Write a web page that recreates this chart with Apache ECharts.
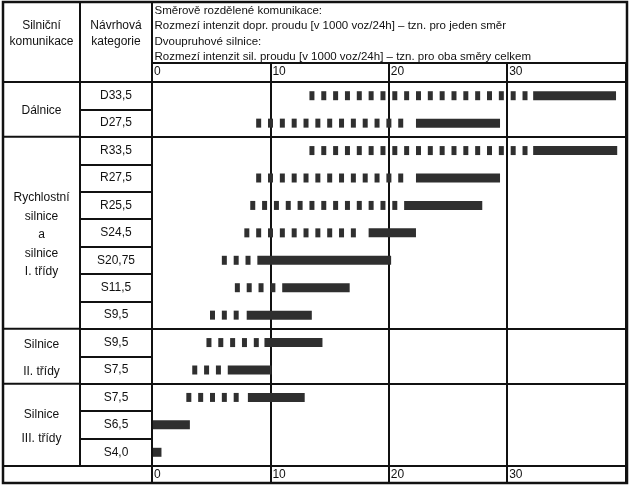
<!DOCTYPE html>
<html><head><meta charset="utf-8">
<script src="https://cdn.jsdelivr.net/npm/echarts@6/dist/echarts.min.js"></script>
<style>html,body{margin:0;padding:0;background:#fff}#c{width:631px;height:488px}</style>
</head><body><div id="c"></div>
<script>
// ---- data ----
const categories = ['D33,5','D27,5','R33,5','R27,5','R25,5','S24,5','S20,75','S11,5','S9,5','S9,5','S7,5','S7,5','S6,5','S4,0'];
const dashStart  = [13.3, 8.8, 13.3, 8.8, 8.3, 7.8, 5.9, 7.0, 4.9, 4.6, 3.4, 2.9, null, null];
const solidStart = [32.2, 22.3, 32.2, 22.3, 21.3, 18.3, 8.9, 11.0, 8.0, 9.5, 6.4, 8.1, 0, 0];
const solidEnd   = [39.2, 29.4, 39.3, 29.4, 27.9, 22.3, 20.2, 16.7, 13.5, 14.4, 10.1, 12.9, 3.2, 0.8];
const axisMin = 0, axisMax = 40, axisStep = 10;
const groupNames = [['Dálnice'], ['Rychlostní','silnice','a','silnice','I. třídy'], ['Silnice','II. třídy'], ['Silnice','III. třídy']];
const groupRows = [2, 7, 2, 3];
const headerCol1 = ['Silniční','komunikace'];
const headerCol2 = ['Návrhová','kategorie'];
const headerLines = [
  'Směrově rozdělené komunikace:',
  'Rozmezí intenzit dopr. proudu [v 1000 voz/24h] – tzn. pro jeden směr',
  'Dvoupruhové silnice:',
  'Rozmezí intenzit sil. proudu [v 1000 voz/24h] – tzn. pro oba směry celkem'
];

// ---- layout / style ----
const W = 631, H = 488;
const L = { outerL: 3, outerT: 2, outerR: 627, outerB: 483, col1R: 80, gridL: 152, gridR: 625.5, headB: 63, gridT: 82, gridB: 466 };
const INK = '#111';
const BAR = '#2f2f2f';
const FONT = '"Liberation Sans", Arial, sans-serif';
const groupLineH = [0, 18.5, 27, 24];
const rowH = (L.gridB - L.gridT) / categories.length;

const chart = echarts.init(document.getElementById('c'), null, { renderer: 'canvas' });

const seriesData = categories.map((c, i) => [i, dashStart[i] == null ? solidStart[i] : dashStart[i], solidStart[i], solidEnd[i]]);

function renderItem(params, api) {
  const cat = api.value(0), ds = api.value(1), ss = api.value(2), se = api.value(3);
  const h = 9, dashW = 5, gap = 4;
  const cy = api.coord([ss, cat])[1];
  const y = cy - h / 2;
  const xs = api.coord([ss, cat])[0];
  const xe = api.coord([se, cat])[0];
  const children = [];
  let v = ds;
  while (api.coord([v, cat])[0] + dashW <= xs - gap) {
    const x = api.coord([v, cat])[0];
    children.push({ type: 'rect', shape: { x: x, y: y, width: dashW, height: h }, style: { fill: BAR } });
    v += 1;
  }
  children.push({ type: 'rect', shape: { x: xs, y: y, width: Math.max(0, xe - xs), height: h }, style: { fill: BAR } });
  return { type: 'group', children: children };
}

// group boundary indices
const boundaries = [];
{ let acc = 0; groupRows.forEach((r, i) => { acc += r; if (i < groupRows.length - 1) boundaries.push(acc); }); }

const graphics = [];
function line(x1, y1, x2, y2, w) {
  graphics.push({ type: 'line', z: 100, shape: { x1, y1, x2, y2 }, style: { stroke: INK, lineWidth: w || 2 } });
}
function text(t, x, y, size, align) {
  graphics.push({ type: 'text', z: 100, x: x, y: y,
    style: { text: t, font: size + 'px ' + FONT, fill: INK, align: align || 'center', verticalAlign: 'middle',
             textAlign: align || 'center', textVerticalAlign: 'middle' } });
}
// outer frame & fixed table lines
graphics.push({ type: 'rect', z: 100, shape: { x: L.outerL, y: L.outerT, width: L.outerR - L.outerL, height: L.outerB - L.outerT },
  style: { fill: 'none', stroke: INK, lineWidth: 2.5 } });
line(L.col1R, L.outerT, L.col1R, L.gridB);
line(L.gridL, L.outerT, L.gridL, L.outerB);
line(L.gridL, L.headB, L.outerR, L.headB);
line(L.outerL, L.gridT, L.outerR, L.gridT);
line(L.outerL, L.gridB, L.outerR, L.gridB);
boundaries.forEach(b => line(L.outerL, L.gridT + b * rowH, L.col1R, L.gridT + b * rowH));
// header texts
const hy = [26, 42];
headerCol1.forEach((t, i) => text(t, (L.outerL + L.col1R) / 2, hy[i], 12));
headerCol2.forEach((t, i) => text(t, (L.col1R + L.gridL) / 2, hy[i], 12));
headerLines.forEach((t, i) => text(t, L.gridL + 2.5, 10.5 + i * 15.6, 11.5, 'left'));
// group labels
{ let acc = 0;
  groupNames.forEach((lines, g) => {
    const cy = L.gridT + (acc + groupRows[g] / 2) * rowH + (g > 0 ? 2 : 1);
    const lh = groupLineH[g];
    lines.forEach((t, k) => text(t, (L.outerL + L.col1R) / 2, cy + (k - (lines.length - 1) / 2) * lh, 12));
    acc += groupRows[g];
  });
}

const xAxisBase = {
  type: 'value', min: axisMin, max: axisMax, interval: axisStep,
  axisLine: { show: true, lineStyle: { color: INK, width: 2 } },
  axisLabel: { align: 'left', padding: [0, 0, 0, 2], color: INK, fontSize: 12, fontFamily: FONT,
    formatter: v => (v === axisMax ? '' : String(v)) }
};

chart.setOption({
  backgroundColor: '#fff',
  animation: false,
  grid: { left: L.gridL, right: W - L.gridR, top: L.gridT, bottom: H - L.gridB, containLabel: false },
  xAxis: [
    Object.assign({}, xAxisBase, { position: 'top',
      axisTick: { show: true, length: L.gridT - L.headB, lineStyle: { color: INK, width: 2 } },
      axisLabel: Object.assign({}, xAxisBase.axisLabel, { margin: 4 }),
      splitLine: { show: true, lineStyle: { color: INK, width: 2 } } }),
    Object.assign({}, xAxisBase, { position: 'bottom',
      axisTick: { show: true, length: L.outerB - L.gridB, lineStyle: { color: INK, width: 2 } },
      axisLabel: Object.assign({}, xAxisBase.axisLabel, { margin: 3 }),
      splitLine: { show: false } })
  ],
  yAxis: {
    type: 'category', data: categories, inverse: true,
    axisLine: { show: true, lineStyle: { color: INK, width: 2 } },
    axisTick: { show: true, length: L.gridL - L.col1R, lineStyle: { color: INK, width: 2 } },
    axisLabel: { align: 'center', margin: (L.gridL - L.col1R) / 2, color: INK, fontSize: 12, fontFamily: FONT },
    splitLine: { show: true, interval: (idx) => boundaries.indexOf(idx) >= 0, lineStyle: { color: INK, width: 2 } }
  },
  series: [{
    type: 'custom', xAxisIndex: 0, yAxisIndex: 0, renderItem: renderItem,
    encode: { x: [1, 2, 3], y: 0 }, data: seriesData, silent: true
  }],
  graphic: graphics
});
</script></body></html>
